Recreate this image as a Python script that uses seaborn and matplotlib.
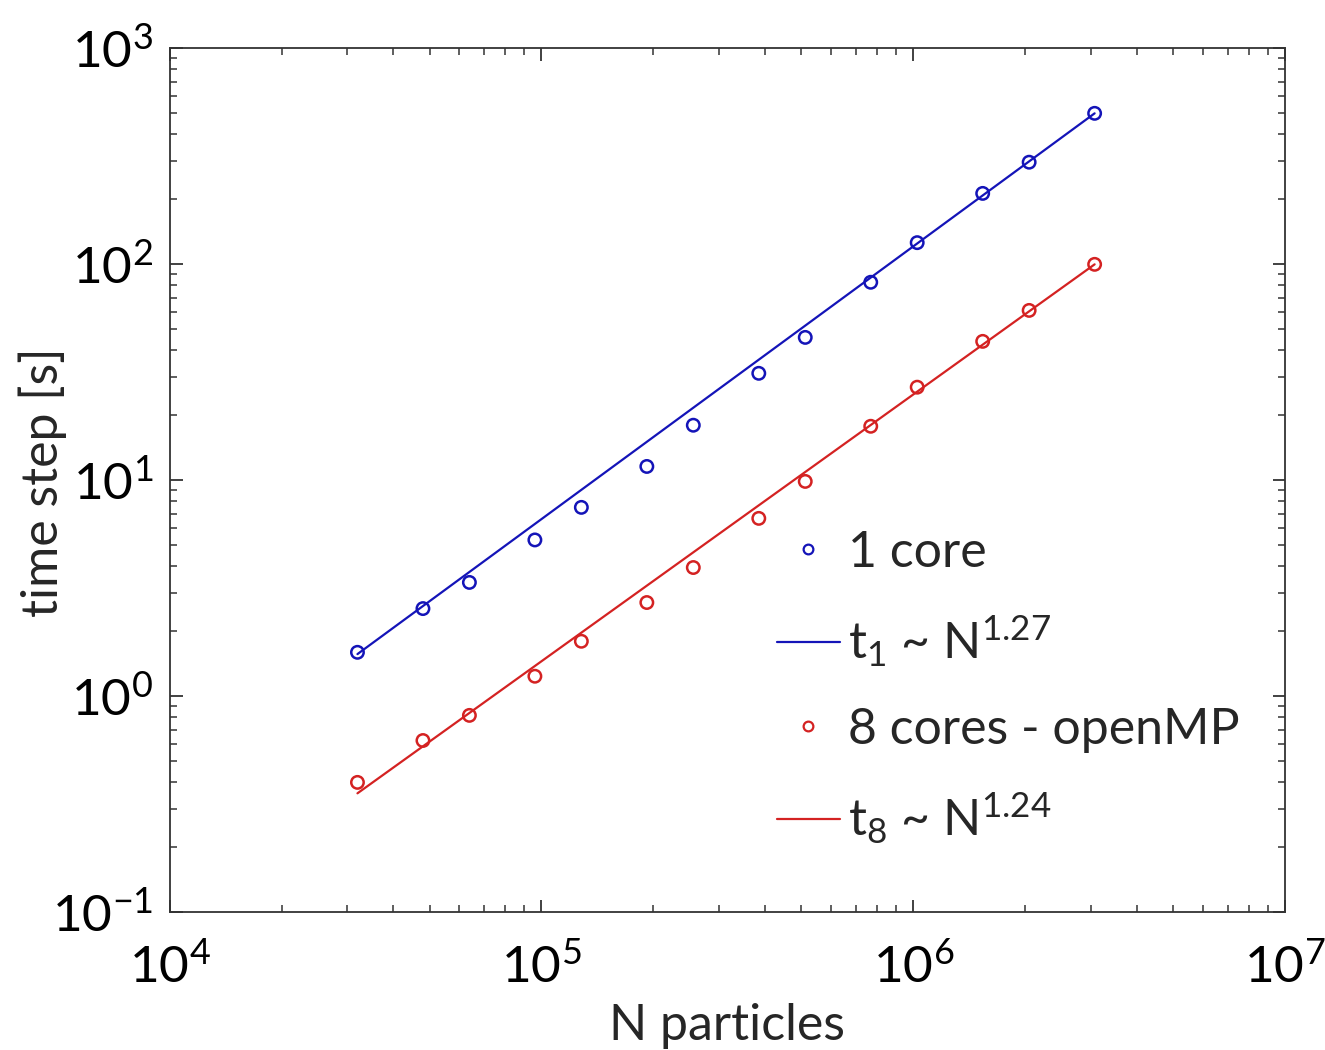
import numpy as np
import pandas as pd
import matplotlib
matplotlib.use("Agg")
import matplotlib.pyplot as plt
import seaborn as sns
from matplotlib.ticker import LogLocator, NullFormatter
from matplotlib.lines import Line2D

# ---- data ----
n_particles = [32000, 48000, 64000, 96000, 128000, 192000, 256000, 384000,
               512000, 768000, 1024000, 1536000, 2048000, 3072000]
t_1core = [1.6, 2.55, 3.37, 5.3, 7.5, 11.6, 18.0, 31.3, 45.9, 82.6, 126, 213, 297, 500]
t_8core = [0.40, 0.625, 0.817, 1.24, 1.80, 2.72, 3.95, 6.67, 9.89, 17.8, 27.0, 44.0, 61.2, 100]
fit_n = [32000, 3072000]
fit_t1 = [1.57, 500]
fit_t8 = [0.356, 100]
labels = ["1 core", r"t$_1$ ~ N$^{1.27}$", "8 cores - openMP", r"t$_8$ ~ N$^{1.24}$"]

blue = "#1414b8"
red = "#d42222"

sns.set_theme(style="ticks")
plt.rcParams["font.family"] = ["Lato", "DejaVu Sans"]
plt.rcParams["mathtext.fontset"] = "custom"
plt.rcParams["mathtext.rm"] = "Lato"
plt.rcParams["mathtext.it"] = "Lato"
plt.rcParams["mathtext.default"] = "regular"
plt.rcParams["axes.unicode_minus"] = False

df = pd.DataFrame({"N": n_particles, "t1": t_1core, "t8": t_8core})
fit = pd.DataFrame({"N": fit_n, "t1": fit_t1, "t8": fit_t8})

fig = plt.figure(figsize=(13.25, 10.5), dpi=100)
ax = fig.add_axes([0.128, 0.131, 0.842, 0.823])

sns.lineplot(data=fit, x="N", y="t1", ax=ax, color=blue, lw=1.6, zorder=2)
sns.lineplot(data=fit, x="N", y="t8", ax=ax, color=red, lw=1.6, zorder=2)
sns.scatterplot(data=df, x="N", y="t1", ax=ax, marker="o", s=80,
                facecolor="none", edgecolor=blue, linewidth=1.8, zorder=3)
sns.scatterplot(data=df, x="N", y="t8", ax=ax, marker="o", s=80,
                facecolor="none", edgecolor=red, linewidth=1.8, zorder=3)

ax.set_xscale("log")
ax.set_yscale("log")
ax.set_xlim(1e4, 1e7)
ax.set_ylim(1e-1, 1e3)
ax.xaxis.set_major_locator(LogLocator(base=10, numticks=10))
ax.yaxis.set_major_locator(LogLocator(base=10, numticks=10))
ax.xaxis.set_minor_locator(LogLocator(base=10, subs=np.arange(2, 10), numticks=20))
ax.yaxis.set_minor_locator(LogLocator(base=10, subs=np.arange(2, 10), numticks=20))
ax.xaxis.set_minor_formatter(NullFormatter())
ax.yaxis.set_minor_formatter(NullFormatter())

ax.tick_params(which="both", direction="in", top=True, right=True,
               color="#333333", labelsize=37, labelcolor="black")
ax.tick_params(which="major", length=9, width=1.3)
ax.tick_params(which="minor", length=5, width=1.1)
ax.tick_params(axis="x", which="major", pad=22)
ax.tick_params(axis="y", which="major", pad=12)
for sp in ax.spines.values():
    sp.set_color("#333333")
    sp.set_linewidth(1.3)

ax.set_xlabel("N particles", fontsize=36)
ax.set_ylabel("time step [s]", fontsize=36)
ax.xaxis.set_label_coords(0.5, -0.105)
ax.yaxis.set_label_coords(-0.092, 0.498)

handles = [
    Line2D([], [], ls="none", marker="o", mfc="none", mec=blue, ms=7, mew=1.6),
    Line2D([], [], color=blue, lw=1.6),
    Line2D([], [], ls="none", marker="o", mfc="none", mec=red, ms=7, mew=1.6),
    Line2D([], [], color=red, lw=1.6),
]
ax.legend(handles, labels, loc="upper left", bbox_to_anchor=(0.544, 0.443),
          frameon=False, fontsize=36, handlelength=1.26, handletextpad=0.17,
          labelspacing=0.76, borderaxespad=0, borderpad=0)

fig.savefig("out.png", dpi=100, facecolor="white")
